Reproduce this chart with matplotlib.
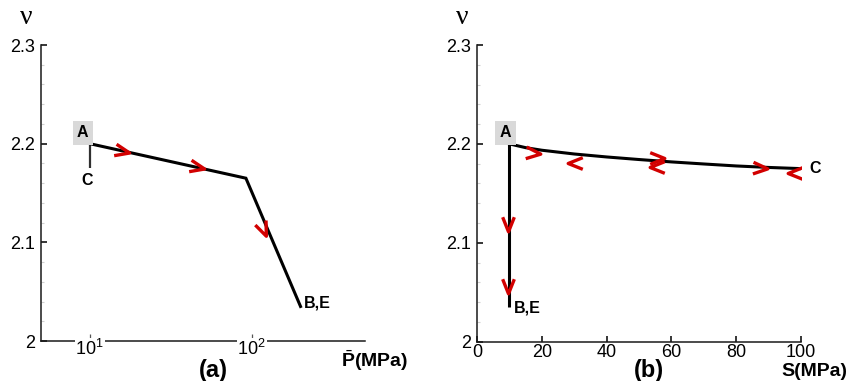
import numpy as np
import matplotlib
matplotlib.use("Agg")
import matplotlib.pyplot as plt
from matplotlib.markers import MarkerStyle
from matplotlib.path import Path
from matplotlib.transforms import Affine2D
from matplotlib.ticker import MultipleLocator, NullLocator

plt.rcParams['font.family'] = ['Liberation Sans', 'DejaVu Sans']
plt.rcParams['mathtext.fontset'] = 'custom'
plt.rcParams['mathtext.rm'] = 'Liberation Sans'
plt.rcParams['mathtext.bf'] = 'Liberation Sans:bold'
plt.rcParams['mathtext.it'] = 'Liberation Sans:italic'

# ---- (a) specific volume against mean stress (log axis) ----
p_load = [10, 92, 200]
nu_load = [2.2, 2.165, 2.035]
p_unload = [10, 10]
nu_unload = [2.2, 2.175]
arrow_p = [15.8, 46, 118]
arrow_nu_a = [2.1925, 2.176, 2.114]
arrow_dir_a = [-12, -12, -67]

# ---- (b) specific volume against deviatoric stress ----
s_shear = [10, 15, 20, 30, 40, 50, 60, 70, 80, 90, 100]
nu_shear = [2.2, 2.1962, 2.1936, 2.1898, 2.1868, 2.1842, 2.1818, 2.1797,
            2.1777, 2.1762, 2.175]
s_comp = [10, 10]
nu_comp = [2.2, 2.035]
arrow_s = [17.4, 30.2, 55.5, 55.5, 87.3, 98.1, 9.7, 9.7]
arrow_nu_b = [2.1908, 2.1807, 2.1856, 2.1770, 2.1757, 2.1706, 2.1193, 2.0568]
arrow_dir_b = [-5, 180, 0, 180, -3, 180, -90, -90]

y_ticks = [2.0, 2.1, 2.2, 2.3]
y_labels = ['2', '2.1', '2.2', '2.3']
p_ticks = [10, 100]
p_labels = [r'$\mathdefault{10^{1}}$', r'$\mathdefault{10^{2}}$']
s_ticks = [0, 20, 40, 60, 80, 100]
s_labels = ['0', '20', '40', '60', '80', '100']

RED = '#d20000'
chevron = Path([(-1.0, 0.8), (1.0, 0.0), (-1.0, -0.8)],
               [Path.MOVETO, Path.LINETO, Path.LINETO])


def draw_arrows(ax, xs, ys, angles):
    for x, y, a in zip(xs, ys, angles):
        m = MarkerStyle(chevron, transform=Affine2D().rotate_deg(a),
                        joinstyle='miter', capstyle='butt')
        ax.plot([x], [y], linestyle='none', marker=m, markersize=10.5,
                markerfacecolor='none', markeredgecolor=RED,
                markeredgewidth=2.4, zorder=4)


def style_axes(ax):
    for side in ('top', 'right'):
        ax.spines[side].set_visible(False)
    for side in ('left', 'bottom'):
        ax.spines[side].set_linewidth(1.1)
        ax.spines[side].set_color('#1a1a1a')
    ax.set_ylim(2.0, 2.3)
    ax.set_yticks(y_ticks, labels=y_labels)
    ax.yaxis.set_minor_locator(MultipleLocator(0.02))
    ax.tick_params(axis='y', which='major', direction='in', length=4.5,
                   width=1.1, labelsize=13, pad=4)
    ax.tick_params(axis='y', which='minor', direction='in', length=2.5,
                   width=0.8, color='#d0d0d0')
    ax.text(-0.047, 1.092, 'ν', transform=ax.transAxes, fontsize=20,
            family=['Liberation Serif', 'DejaVu Serif'],
            ha='center', va='center')


def label(ax, txt, xy, off, ha='center', boxed=False):
    kw = dict(fontsize=11.5, fontweight='bold', ha=ha, va='center',
              textcoords='offset pixels', zorder=5)
    if boxed:
        kw['bbox'] = dict(boxstyle='square,pad=0.28', fc='#d9d9d9', ec='none')
    ax.annotate(txt, xy=xy, xytext=off, **kw)


fig = plt.figure(figsize=(8.5, 3.81), dpi=100)

# (a)
ax1 = fig.add_axes([41 / 850, 40 / 381, 324 / 850, 296 / 381])
style_axes(ax1)
ax1.set_xscale('log')
ax1.set_xlim(5, 500)
ax1.set_xticks(p_ticks, labels=p_labels)
ax1.xaxis.set_minor_locator(NullLocator())
ax1.tick_params(axis='x', which='major', direction='in', length=5,
                width=0.9, color='#555555', labelsize=13, pad=-1.5)
for t in ax1.get_xticklabels():
    t.set_bbox(dict(facecolor='white', edgecolor='none', pad=0.5))
ax1.xaxis.set_zorder(3)

ax1.plot(p_unload, nu_unload, color='#303030', lw=1.6, zorder=2,
         solid_capstyle='butt')
ax1.plot(p_load, nu_load, color='black', lw=2.2, zorder=3,
         solid_joinstyle='miter')
draw_arrows(ax1, arrow_p, arrow_nu_a, arrow_dir_a)

label(ax1, 'A', (p_load[0], nu_load[0]), (-7, 11), boxed=True)
label(ax1, 'C', (p_unload[1], nu_unload[1]), (-3, -12))
label(ax1, 'B,E', (p_load[-1], nu_load[-1]), (3, 3), ha='left')

ax1.text(1.03, -0.068, r'$\bar{\mathbf{P}}$(MPa)', transform=ax1.transAxes,
         fontsize=14, fontweight='bold', ha='center', va='center')
ax1.text(0.531, -0.098, '(a)', transform=ax1.transAxes, fontsize=17,
         fontweight='bold', ha='center', va='center')

# (b)
ax2 = fig.add_axes([477 / 850, 39.3 / 381, 324 / 850, 296.7 / 381])
style_axes(ax2)
ax2.set_xlim(0, 100)
ax2.set_xticks(s_ticks, labels=s_labels)
ax2.tick_params(axis='x', which='major', direction='in', length=4.5,
                width=1.1, labelsize=13, pad=2)

ax2.plot(s_comp, nu_comp, color='black', lw=2.2, zorder=3,
         solid_capstyle='butt')
ax2.plot(s_shear, nu_shear, color='black', lw=2.2, zorder=3)
draw_arrows(ax2, arrow_s, arrow_nu_b, arrow_dir_b)

label(ax2, 'A', (s_shear[0], nu_shear[0]), (-4, 11), boxed=True)
label(ax2, 'C', (s_shear[-1], nu_shear[-1]), (8, 0), ha='left')
label(ax2, 'B,E', (s_comp[1], nu_comp[1]), (4, -1), ha='left')

ax2.text(1.04, -0.1, 'S(MPa)', transform=ax2.transAxes, fontsize=14,
         fontweight='bold', ha='center', va='center')
ax2.text(0.531, -0.098, '(b)', transform=ax2.transAxes, fontsize=17,
         fontweight='bold', ha='center', va='center')

fig.savefig('out.png', dpi=100)
